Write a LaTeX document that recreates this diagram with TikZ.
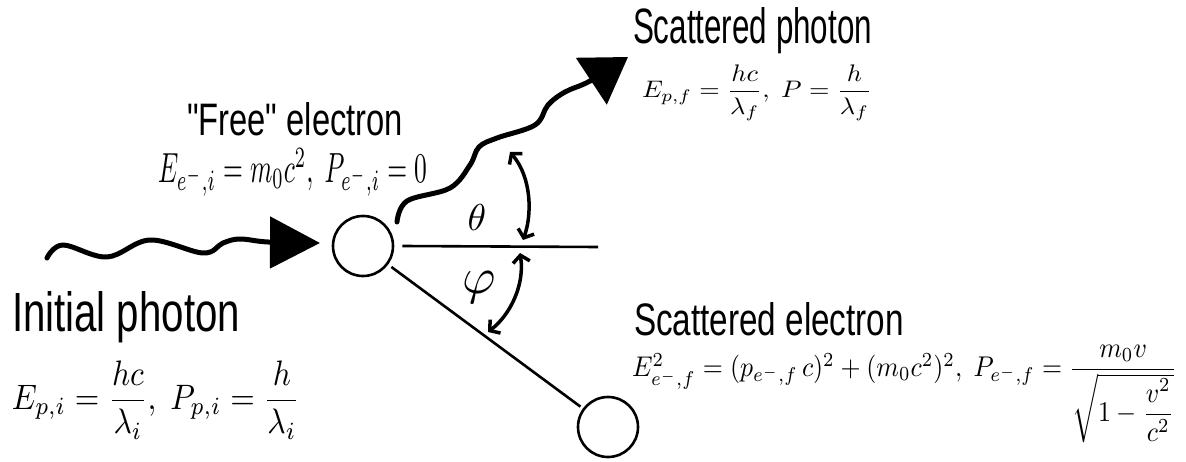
\documentclass[tikz,border=0pt]{standalone}
\usepackage{amsmath}
\usepackage{fontspec}
\setmainfont{Liberation Sans}
\usetikzlibrary{arrows.meta}
\begin{document}
\begin{tikzpicture}[x=1pt,y=-1pt,
  photon/.style={line width=5pt, line cap=round, line join=round},
  particle/.style={circle, draw, line width=2.6pt, minimum size=60pt, inner sep=0pt},
  thinline/.style={line width=2.6pt},
  anglearrow/.style={line width=3.5pt, line cap=round,
    {Straight Barb[length=7pt,width=17pt]}-{Straight Barb[length=7pt,width=17pt]}},
  lbl/.style={inner sep=0pt, outer sep=0pt}]
\fill[white] (0,0) rectangle (1186,462);
\useasboundingbox (0,0) rectangle (1186,462);

% particles
\node[particle] (e1) at (363,246) {};
\node[particle] (e2) at (608,427) {};

% reference line and scattered electron path
\coordinate (hend) at (598,247);
\draw[thinline] ([xshift=8pt]e1.east) -- (hend);
\draw[thinline, shorten <=4pt, shorten >=3pt] (e1) -- (e2);

% incoming photon
\coordinate (inStart) at (47,258);
\coordinate (inTip) at (320,243);
\draw[photon, -{Triangle[length=50pt,width=51pt]}]
  plot[smooth, tension=0.6] coordinates {(inStart) (63,245) (107,257) (150,240) (203,253) (223,243) (240,239) (268,242) (inTip)};

% scattered photon
\coordinate (outStart) at (397,222);
\coordinate (outTip) at (628,57);
\draw[photon, -{Triangle[length=44pt,width=55pt]}]
  plot[smooth, tension=0.6] coordinates {(outStart) (407,201) (450,188) (470,165) (479,147) (497,138) (535,125) (548,105) (565,92) (590,81) (outTip)};

% angle arrows
\coordinate (thA) at (510,152);
\coordinate (thB) at (523,240);
\draw[anglearrow] (thA) .. controls (532,178) and (532,215) .. (thB);
\coordinate (phA) at (520,253);
\coordinate (phB) at (488,332);
\draw[anglearrow] (phA) .. controls (525,285) and (510,315) .. (phB);

\node[lbl] (theta) at (477,217) {\resizebox{!}{26pt}{$\theta$}};
\node[lbl] (phi) at (479,287) {\resizebox{!}{22pt}{$\varphi$}};

% labels
\node[lbl, anchor=base west] (tInit) at (12,332) {\resizebox{228pt}{40pt}{Initial photon}};
\node[lbl, anchor=west] (fInit) at (12,400) {\resizebox*{288pt}{78pt}{$E_{p,i}=\dfrac{hc}{\lambda_i},\ P_{p,i}=\dfrac{h}{\lambda_i}$}};

\node[lbl, anchor=base west] (tFree) at (187,136) {\resizebox{216pt}{33pt}{\textquotedbl Free\textquotedbl\ electron}};
\node[lbl, anchor=west] (fFree) at (158,172) {\resizebox*{269pt}{48pt}{$E_{e^-,i}=m_0c^2,\ P_{e^-,i}=0$}};

\node[lbl, anchor=base west] (tSph) at (633,44) {\resizebox{239pt}{36pt}{Scattered photon}};
\node[lbl, anchor=west] (fSph) at (642,93) {\resizebox*{230pt}{56pt}{$E_{p,f}=\dfrac{hc}{\lambda_f},\ P=\dfrac{h}{\lambda_f}$}};

\node[lbl, anchor=base west] (tSel) at (634,336) {\resizebox{270pt}{33pt}{Scattered electron}};
\node[lbl, anchor=west] (fSel) at (632,394) {\resizebox*{545pt}{98pt}{$E^2_{e^-,f}=(p_{e^-,f}\,c)^2+(m_0c^2)^2,\ P_{e^-,f}=\dfrac{m_0v}{\sqrt{1-\dfrac{v^2}{c^2}}}$}};
\end{tikzpicture}
\end{document}
